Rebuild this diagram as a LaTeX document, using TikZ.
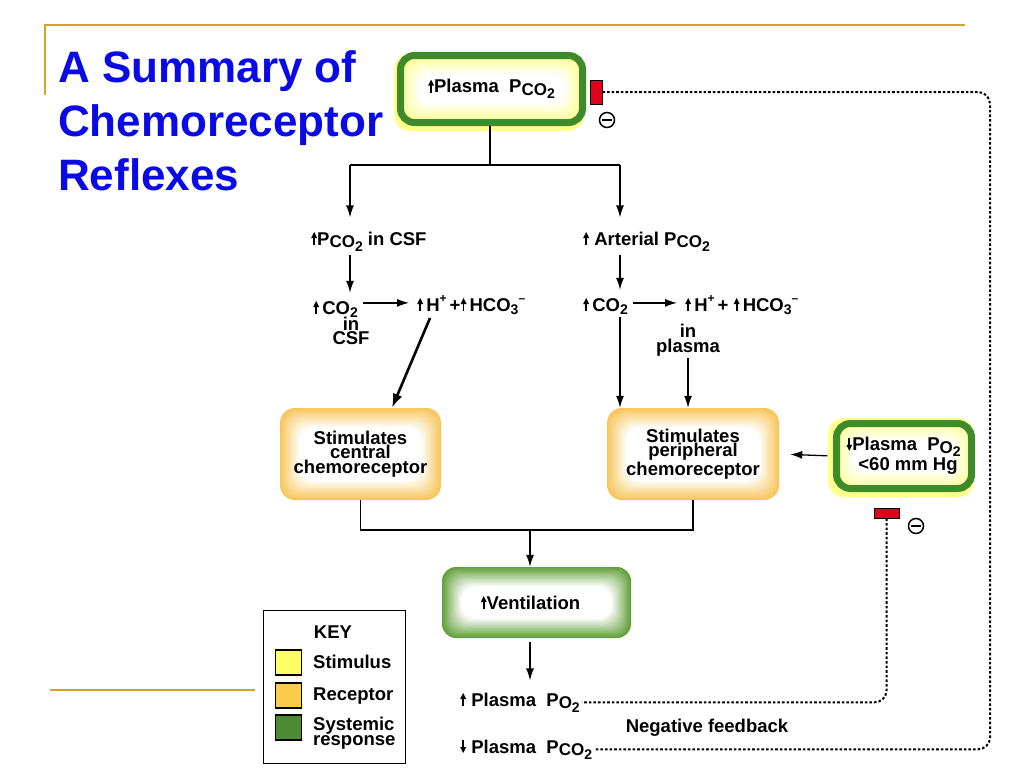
\documentclass[tikz,border=0pt]{standalone}
\usepackage{fontspec}
\usepackage{graphicx}
\setmainfont{Liberation Sans}
\usetikzlibrary{arrows.meta,calc}
\definecolor{titleblue}{HTML}{0A0AE6}
\definecolor{gold}{HTML}{D4A42C}
\definecolor{stimy}{HTML}{FFFF8C}
\definecolor{keyy}{HTML}{FFFF66}
\definecolor{recor}{HTML}{F7C65A}
\definecolor{keyor}{HTML}{FBCB4C}
\definecolor{sysgr}{HTML}{62A03C}
\definecolor{keygr}{HTML}{4E8A34}
\definecolor{bordgr}{HTML}{3F8A2A}
\definecolor{fbred}{HTML}{E0001C}
\newcommand\up{\tikz[x=1pt,y=1pt,baseline=0pt]{\fill (2.1,0) rectangle (3.9,8); \fill (0,7) -- (3,13) -- (6,7) -- cycle;}}
\newcommand\dn{\tikz[x=1pt,y=1pt,baseline=0pt]{\fill (2.1,5) rectangle (3.9,13); \fill (0,6) -- (3,0) -- (6,6) -- cycle;}}
\newcommand\sbs[1]{\raisebox{-0.3ex}{\fontsize{17}{17}\selectfont #1}}
\newcommand\sbb[1]{\raisebox{-0.35ex}{\fontsize{14}{14}\selectfont #1}}
\newcommand\PCO{P\sbs{CO\sbb{2}}}
\newcommand\POO{P\sbs{O\sbb{2}}}
\newcommand\sups[1]{\raisebox{0.9ex}{\fontsize{12}{12}\selectfont #1}}
\newcommand\glow[6]{%
  \foreach \i in {0,...,16}{%
    \pgfmathsetmacro\pc{100-\i*100/16}%
    \fill[#5!\pc!white, rounded corners=#6] ({#1+\i*1.2},{#2+\i*1.2}) rectangle ({#3-\i*1.2},{#4-\i*1.2});
  }}
\begin{document}
\begin{tikzpicture}[x=1pt,y=-1pt,
  txt/.style={font=\fontsize{18.5}{14.5}\selectfont\bfseries, inner sep=2pt},
  boxn/.style={txt, align=center, inner sep=0pt},
  arr/.style={-{Latex[length=12pt,width=8pt]}, line width=1.3pt},
  ln/.style={line width=1.3pt},
  fb/.style={line width=2pt, dash pattern=on 2.6pt off 2pt, rounded corners=12pt},
  redr/.style={draw=black, line width=0.8pt, fill=fbred, inner sep=0pt},
  minus/.style={circle, draw, line width=1.5pt, minimum size=15pt, inner sep=0pt},
  goldl/.style={gold, line width=2pt}]
\useasboundingbox (0,0) rectangle (1024,768);
\fill[white] (0,0) rectangle (1024,768);
% frame lines
\draw[goldl] (45,95) -- (45,25) -- (965,25);
\draw[goldl] (50,690) -- (255,690);
% title
\node[anchor=north west, align=left, inner sep=0pt, text=titleblue,
  font=\fontsize{44}{54}\selectfont\bfseries] (title) at (58,50)
  {A Summary of\\Chemoreceptor\\Reflexes};
% top stimulus box
\fill[stimy, rounded corners=16pt] (394,54) rectangle (584,131);
\glow{400}{55}{583}{123}{stimy}{14pt}
\draw[bordgr, line width=7pt, rounded corners=14pt] (400.5,55.5) rectangle (582.5,122.5);
\node[boxn, minimum width=189, minimum height=74] (topbox) at (491.5,89) {\up Plasma\ \ \PCO};
\node[redr, minimum width=12, minimum height=24] (red1) at (596,92) {};
\node[minus] (m1) at (607,120) {};
\draw[line width=1.5pt] ($(m1.west)+(3.5,0)$) -- ($(m1.east)+(-3.5,0)$);
% branch
\coordinate (jt) at (490,165);
\coordinate (jl) at (350,165);
\coordinate (jr) at (620,165);
\draw[ln] (topbox.south -| jt) -- (jt);
\draw[ln] (jl) -- (jr);
% row 1
\node[txt, anchor=base west] (pcsf) at (309,245) {\up\PCO{} in CSF};
\node[txt, anchor=base west] (part) at (581,245) {\up{} Arterial \PCO};
\draw[arr, shorten >=12pt] (jl) -- (jl |- pcsf.north);
\draw[arr, shorten >=12pt] (jr) -- (jr |- part.north);
% row 2
\node[txt, anchor=base west] (co2a) at (311,314) {\up\,CO\sbb{2}};
\node[txt, align=center, inner sep=0pt] (incsf) at (351,331) {in\\CSF};
\node[txt, anchor=base west] (hco1) at (415,311) {\up\,H\sups{+}\,+\up\,HCO\sbb{3}\sups{--}};
\node[txt, anchor=base west] (co2b) at (581,311) {\up\,CO\sbb{2}};
\node[txt, anchor=base west] (hco2) at (683,311) {\up\,H\sups{+}\,+ \up\,HCO\sbb{3}\sups{--}};
\node[txt, align=center, inner sep=0pt] (inpl) at (688,340) {in\\plasma};
\draw[arr, shorten <=2pt, shorten >=6pt] (jl |- pcsf.south) -- (jl |- co2a.north);
\draw[arr, shorten <=2pt, shorten >=6pt] (jr |- part.south) -- (jr |- co2b.north);
\draw[arr, shorten <=3pt, shorten >=6pt] ($(co2a.east |- hco1.west)+(0,-2)$) -- ($(hco1.west)+(0,-2)$);
\draw[arr, shorten <=3pt, shorten >=6pt] ($(co2b.east |- hco2.west)+(0,-2)$) -- ($(hco2.west)+(0,-2)$);
% receptor boxes
\glow{280}{408}{441}{500}{recor}{15pt}
\node[boxn, minimum width=161, minimum height=92] (central) at (360.5,454) {Stimulates\\central\\chemoreceptor};
\glow{607}{408}{779}{500}{recor}{15pt}
\node[boxn, minimum width=172, minimum height=92] (periph) at (693,454) {Stimulates\\peripheral\\chemoreceptor};
\coordinate (dstart) at (430,318);
\draw[-{Latex[length=14pt,width=10pt]}, line width=2.6pt] (dstart) -- ($(central.north)+(31.5,0)$);
\draw[arr] (jr |- co2b.south) -- (jr |- periph.north);
\draw[arr, shorten <=2pt] (inpl.south) -- (inpl.south |- periph.north);
% low PO2 stimulus box
\fill[stimy, rounded corners=16pt] (828,418) rectangle (974,497);
\glow{834}{421}{974}{491}{stimy}{14pt}
\draw[bordgr, line width=7pt, rounded corners=14pt] (836.5,423.5) rectangle (971.5,488.5);
\node[boxn, minimum width=142, minimum height=72, align=right] (lowpo) at (903.5,456) {\dn Plasma\ \ \POO\\<60 mm Hg\,};
\draw[arr, shorten <=5pt, shorten >=11pt] (lowpo.west) -- (periph.east);
\node[redr, minimum width=25, minimum height=10] (red2) at (886.5,513) {};
\node[minus] (m2) at (916,526) {};
\draw[line width=1.5pt] ($(m2.west)+(3.5,0)$) -- ($(m2.east)+(-3.5,0)$);
% merge
\coordinate (jb1) at (360.5,530);
\coordinate (jb2) at (693,530);
\coordinate (jm) at (530,530);
\draw[ln] (central.south) -- (jb1) -- (jb2) -- (periph.south);
% ventilation
\glow{442}{567}{631}{638}{sysgr}{14pt}
\node[boxn, minimum width=189, minimum height=71] (vent) at (536.5,602.5) {\up Ventilation\hspace{12pt}};
\draw[arr] (jm) -- (jm |- vent.north);
% outcomes
\node[txt, anchor=base west] (po2up) at (458,706) {\up{} Plasma\ \ \POO};
\node[txt] (negfb) at (707,728) {Negative feedback};
\node[txt, anchor=base west] (pco2dn) at (458,753) {\dn{} Plasma\ \ \PCO};
\draw[arr, shorten <=4pt, shorten >=10pt] (jm |- vent.south) -- (jm |- po2up.north);
% feedback loops
\draw[fb] (red1.east) -- (990,92) -- (990,0 |- pco2dn.east) -- (pco2dn.east);
\draw[fb] (red2.south) -- (red2.south |- po2up.east) -- (po2up.east);
% key
\node[draw, line width=1.3pt, minimum width=142, minimum height=153, anchor=north west, inner sep=0pt] (key) at (263,610) {};
\node[txt] (keyt) at (333,632) {KEY};
\node[draw, line width=1.2pt, fill=keyy, minimum width=26, minimum height=25, inner sep=0pt] (k1) at (288.5,662.5) {};
\node[draw, line width=1.2pt, fill=keyor, minimum width=26, minimum height=25, inner sep=0pt] (k2) at (288.5,695.5) {};
\node[draw, line width=1.2pt, fill=keygr, minimum width=26, minimum height=25, inner sep=0pt] (k3) at (288.5,727.5) {};
\node[txt, anchor=west] (l1) at (311,662) {Stimulus};
\node[txt, anchor=west] (l2) at (311,696) {Receptor};
\node[txt, anchor=west, align=left] (l3) at (311,733) {Systemic\\response};
\end{tikzpicture}
\end{document}
